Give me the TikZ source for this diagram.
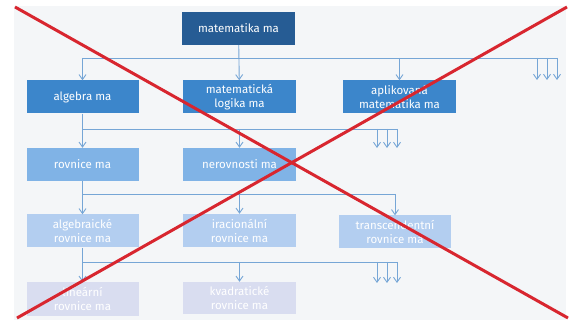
\documentclass[tikz,border=0pt]{standalone}
\usepackage{fontspec}
\setmainfont{Fira Sans}
\usepackage{xcolor}
\usetikzlibrary{arrows.meta, positioning}

\definecolor{topblue}{HTML}{265C94}
\definecolor{lvlone}{HTML}{3C86CB}
\definecolor{lvltwo}{HTML}{80B3E6}
\definecolor{lvlthree}{HTML}{B3CEF0}
\definecolor{lvlfour}{HTML}{D9DDF0}
\definecolor{linkblue}{HTML}{76A6D6}
\definecolor{crossred}{HTML}{D8262F}
\definecolor{paper}{HTML}{F4F6F8}

\tikzset{
  topic/.style={rectangle, inner sep=0pt, minimum width=112pt, minimum height=33pt,
    text=white, align=center, font=\fontsize{11.5}{14}\selectfont},
  link/.style={draw=linkblue, line width=0.9pt},
  down/.style={link, -{Straight Barb[length=5pt,width=7pt]}}
}

\begin{document}
\begin{tikzpicture}[x=1pt, y=-1pt]
                        \useasboundingbox (0,0) rectangle (573,320);
                        \fill[paper] (14,6) rectangle (566,320);

                        \node[topic, fill=topblue, minimum width=113pt] (mat) at (238.5, 28.5) {matematika ma};
                        \node[topic, fill=lvlone] (alg) at (82.5, 97) {algebra ma};
                        \node[topic, fill=lvlone, minimum width=113pt] (log) at (239.5, 97) {matematická\\logika ma};
                        \node[topic, fill=lvlone, minimum width=113pt] (apl) at (399.5, 97) {aplikovaná\\matematika ma};
                        \node[topic, fill=lvltwo] (rov) at (82.5, 164.5) {rovnice ma};
                        \node[topic, fill=lvltwo, minimum width=113pt] (ner) at (239.5, 164.5) {nerovnosti ma};
                        \node[topic, fill=lvlthree] (algr) at (82.5, 231) {algebraické\\rovnice ma};
                        \node[topic, fill=lvlthree, minimum width=113pt] (ira) at (239.5, 230.5) {iracionální\\rovnice ma};
                        \node[topic, fill=lvlthree] (tra) at (395, 232) {transcendentní\\rovnice ma};
                        \node[topic, fill=lvlfour, minimum height=34pt] (lin) at (82.5, 299) {lineární\\rovnice ma};
                        \node[topic, fill=lvlfour, minimum width=113pt, minimum height=32pt] (kva) at (239.5, 298) {kvadratické\\rovnice ma};

                        % bus lines
                        \coordinate (busa) at (82.5, 58);
                        \coordinate (busae) at (558, 58);
                        \coordinate (busb) at (82.5, 129);
                        \coordinate (busbe) at (398, 129);
                        \coordinate (busc) at (82.5, 194);
                        \coordinate (busce) at (395, 194);
                        \coordinate (busd) at (82.5, 262);
                        \coordinate (busde) at (398, 262);

                        % loose ends
                        \coordinate (ea1) at (537, 80);
                        \coordinate (ea2) at (547, 80);
                        \coordinate (ea3) at (557, 80);
                        \coordinate (eb1) at (377, 148);
                        \coordinate (eb2) at (387, 148);
                        \coordinate (eb3) at (397, 148);
                        \coordinate (ed1) at (377, 283);
                        \coordinate (ed2) at (387, 283);
                        \coordinate (ed3) at (397, 283);

                        \draw[link] (busa) -- (busae);
                        \draw[down] (mat) -- (log);
                        \draw[down] (busa) -- (alg);
                        \draw[down] (apl.north |- busa) -- (apl);
                        \draw[down] (ea1 |- busa) -- (ea1);
                        \draw[down] (ea2 |- busa) -- (ea2);
                        \draw[down] (ea3 |- busa) -- (ea3);

                        \draw[link] (alg) -- (busb) -- (busbe);
                        \draw[down] (busb) -- (rov);
                        \draw[down] (ner.north |- busb) -- (ner);
                        \draw[down] (eb1 |- busb) -- (eb1);
                        \draw[down] (eb2 |- busb) -- (eb2);
                        \draw[down] (eb3 |- busb) -- (eb3);

                        \draw[link] (rov) -- (busc) -- (busce);
                        \draw[down] (busc) -- (algr);
                        \draw[down] (ira.north |- busc) -- (ira);
                        \draw[down] (tra.north |- busc) -- (tra);

                        \draw[link] (algr) -- (busd) -- (busde);
                        \draw[down] (busd) -- (lin);
                        \draw[down] (kva.north |- busd) -- (kva);
                        \draw[down] (ed1 |- busd) -- (ed1);
                        \draw[down] (ed2 |- busd) -- (ed2);
                        \draw[down] (ed3 |- busd) -- (ed3);

                        % the cross
                        \draw[crossred, line width=3pt] (15, 7) -- (568, 318);
                        \draw[crossred, line width=3pt] (567, 7) -- (17, 318);
                    \end{tikzpicture}
\end{document}
